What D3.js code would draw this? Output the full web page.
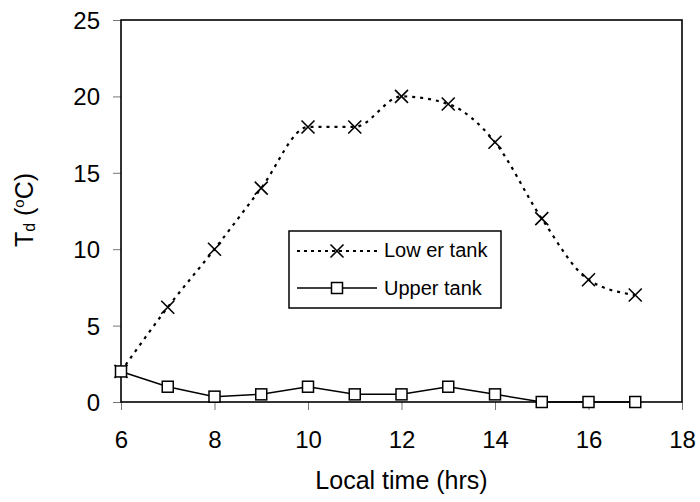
<!DOCTYPE html>
<html>
<head>
<meta charset="utf-8">
<script src="https://cdn.jsdelivr.net/npm/d3@7"></script>
<style>
  body { margin: 0; background: #fff; }
  svg { font-family: "Liberation Sans", Arial, sans-serif; }
</style>
</head>
<body>
<div id="chart"></div>
<script>
// Data
const hours = [6, 7, 8, 9, 10, 11, 12, 13, 14, 15, 16, 17];
const lowerTank = [2, 6.2, 10, 14, 18, 18, 20, 19.5, 17, 12, 8, 7];
const upperTank = [2, 1, 0.35, 0.5, 1, 0.5, 0.5, 1, 0.5, 0, 0, 0];
const xTicks = [6, 8, 10, 12, 14, 16, 18];
const yTicks = [0, 5, 10, 15, 20, 25];

const W = 700, H = 502;
const m = { left: 121, right: 18, top: 20, bottom: 100 };

const svg = d3.select('#chart').append('svg')
  .attr('width', W).attr('height', H);

const x = d3.scaleLinear().domain([6, 18]).range([m.left, W - m.right]);
const y = d3.scaleLinear().domain([0, 25]).range([H - m.bottom, m.top]);

// Axes
const xAxis = svg.append('g')
  .attr('transform', `translate(0,${y(0)})`)
  .call(d3.axisBottom(x).tickValues(xTicks).tickSize(8));
const yAxis = svg.append('g')
  .attr('transform', `translate(${x(6)},0)`)
  .call(d3.axisLeft(y).tickValues(yTicks).tickSize(8).tickPadding(13));

[xAxis, yAxis].forEach(a => {
  a.select('.domain').remove();
  a.selectAll('.tick line').attr('stroke', '#777').attr('stroke-width', 1);
  a.selectAll('.tick text').attr('font-size', '24px').attr('fill', '#000');
});
xAxis.selectAll('.tick text').attr('y', 46).attr('dy', 0);
yAxis.selectAll('.tick text').attr('dy', '0.35em');

// Plot frame
svg.append('rect')
  .attr('x', x(6)).attr('y', y(25))
  .attr('width', x(18) - x(6)).attr('height', y(0) - y(25))
  .attr('fill', 'none').attr('stroke', '#000').attr('stroke-width', 1.6);

// Axis titles
svg.append('text')
  .attr('x', (x(6) + x(18)) / 2).attr('y', 489)
  .attr('text-anchor', 'middle').attr('font-size', '25px')
  .text('Local time (hrs)');

const yt = svg.append('text')
  .attr('transform', `translate(33,210) rotate(-90)`)
  .attr('text-anchor', 'middle').attr('font-size', '25px');
yt.append('tspan').text('T');
yt.append('tspan').attr('font-size', '16px').attr('dy', 2).text('d');
yt.append('tspan').attr('dy', -2).text(' (');
yt.append('tspan').attr('font-size', '15px').attr('dy', -9).text('o');
yt.append('tspan').attr('dy', 9).text('C)');

// Lower tank — smoothed dotted line
const lowerPts = hours.map((h, i) => [h, lowerTank[i]]);
const upperPts = hours.map((h, i) => [h, upperTank[i]]);

svg.append('path')
  .datum(lowerPts)
  .attr('fill', 'none').attr('stroke', '#000')
  .attr('stroke-width', 2.2).attr('stroke-dasharray', '3,5')
  .attr('d', d3.line().x(d => x(d[0])).y(d => y(d[1])).curve(d3.curveMonotoneX));

// Upper tank — solid line
svg.append('path')
  .datum(upperPts)
  .attr('fill', 'none').attr('stroke', '#000').attr('stroke-width', 1.5)
  .attr('d', d3.line().x(d => x(d[0])).y(d => y(d[1])));

function crossMarker(g, cx, cy) {
  const s = 6.5;
  g.append('path')
    .attr('d', `M${cx - s},${cy - s}L${cx + s},${cy + s}M${cx - s},${cy + s}L${cx + s},${cy - s}`)
    .attr('stroke', '#000').attr('stroke-width', 1.6).attr('fill', 'none');
}
function squareMarker(g, cx, cy) {
  g.append('rect')
    .attr('x', cx - 5.5).attr('y', cy - 5.5).attr('width', 11).attr('height', 11)
    .attr('fill', '#fff').attr('stroke', '#000').attr('stroke-width', 1.5);
}

const markers = svg.append('g');
lowerPts.forEach(d => crossMarker(markers, x(d[0]), y(d[1])));
upperPts.forEach(d => squareMarker(markers, x(d[0]), y(d[1])));

// Legend
const lg = svg.append('g');
lg.append('rect')
  .attr('x', 289).attr('y', 231).attr('width', 212).attr('height', 77)
  .attr('fill', '#fff').attr('stroke', '#000').attr('stroke-width', 1.5);

lg.append('line').attr('x1', 297).attr('x2', 377).attr('y1', 251).attr('y2', 251)
  .attr('stroke', '#000').attr('stroke-width', 2).attr('stroke-dasharray', '3,4');
crossMarker(lg, 337, 251);
lg.append('text').attr('x', 384).attr('y', 257).attr('font-size', '20px').text('Low er tank');

lg.append('line').attr('x1', 297).attr('x2', 377).attr('y1', 288).attr('y2', 288)
  .attr('stroke', '#000').attr('stroke-width', 1.5);
squareMarker(lg, 337, 288);
lg.append('text').attr('x', 384).attr('y', 295).attr('font-size', '20px').text('Upper tank');
</script>
</body>
</html>
